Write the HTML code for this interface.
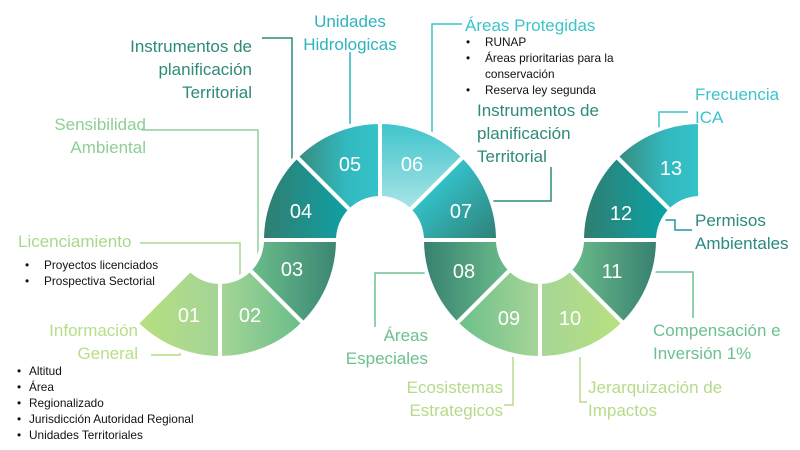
<!DOCTYPE html>
<html><head><meta charset="utf-8"><style>
html,body{margin:0;padding:0;background:#fff;}
svg{display:block;}
.l{font-family:"Liberation Sans",sans-serif;font-size:17px;}
.b{font-family:"Liberation Sans",sans-serif;font-size:11.8px;fill:#111;}
.n{font-family:"Liberation Sans",sans-serif;font-size:20px;fill:#fff;text-anchor:middle;dominant-baseline:central;}
</style></head><body>
<svg width="800" height="450" viewBox="0 0 800 450" xmlns="http://www.w3.org/2000/svg">
<defs>
<linearGradient id="g01" x1="0" y1="0" x2="1" y2="0"><stop offset="0" stop-color="#b7e07e"/><stop offset="1" stop-color="#a4d498"/></linearGradient>
<linearGradient id="g02" x1="0" y1="0" x2="1" y2="0"><stop offset="0" stop-color="#a6d596"/><stop offset="1" stop-color="#68bd8a"/></linearGradient>
<linearGradient id="g03" x1="0" y1="0" x2="1" y2="0"><stop offset="0" stop-color="#6cbe8b"/><stop offset="1" stop-color="#3a8574"/></linearGradient>
<linearGradient id="g04" x1="0" y1="0" x2="1" y2="0"><stop offset="0" stop-color="#327d70"/><stop offset="1" stop-color="#0ea2a6"/></linearGradient>
<linearGradient id="g05" x1="0" y1="0" x2="1" y2="0"><stop offset="0" stop-color="#378a7c"/><stop offset="0.6" stop-color="#33b9bf"/><stop offset="1" stop-color="#34c3ca"/></linearGradient>
<linearGradient id="g06" x1="0" y1="0" x2="0" y2="1"><stop offset="0" stop-color="#3ec3cb"/><stop offset="1" stop-color="#ace5e8"/></linearGradient>
<linearGradient id="g07" x1="0" y1="0" x2="1" y2="1"><stop offset="0.3" stop-color="#33c2ca"/><stop offset="1" stop-color="#2f7f74"/></linearGradient>
<linearGradient id="g08" x1="0" y1="0" x2="1" y2="0"><stop offset="0" stop-color="#367f70"/><stop offset="1" stop-color="#6cbd8b"/></linearGradient>
<linearGradient id="g09" x1="0" y1="0" x2="1" y2="0"><stop offset="0" stop-color="#6abf8a"/><stop offset="1" stop-color="#a8d597"/></linearGradient>
<linearGradient id="g10" x1="0" y1="0" x2="1" y2="0"><stop offset="0" stop-color="#a6d597"/><stop offset="1" stop-color="#b8e17e"/></linearGradient>
<linearGradient id="g11" x1="0" y1="0" x2="1" y2="0"><stop offset="0" stop-color="#6cbc8b"/><stop offset="1" stop-color="#377f70"/></linearGradient>
<linearGradient id="g12" x1="0" y1="0" x2="1" y2="0"><stop offset="0" stop-color="#327d70"/><stop offset="1" stop-color="#08a3a7"/></linearGradient>
<linearGradient id="g13" x1="0" y1="0" x2="1" y2="0"><stop offset="0" stop-color="#378a7c"/><stop offset="0.6" stop-color="#33b9bf"/><stop offset="1" stop-color="#34c3ca"/></linearGradient>
</defs>

<g fill="none" stroke-width="1.5">
<polyline points="262,38 292,38 292,162" stroke="#2e8a7a"/>
<polyline points="350,52 350,127" stroke="#2bb5c0"/>
<polyline points="142,130 258,130 258,262" stroke="#8ecf97"/>
<polyline points="140,243 240,243 240,278" stroke="#a8d98e"/>
<polyline points="151,355 180,355 180,347" stroke="#b3dc84"/>
<polyline points="462,24 432,24 432,135" stroke="#3cc3cb"/>
<polyline points="551,167 551,201 493,201" stroke="#2e8a7a"/>
<polyline points="688,112 659,112 659,134" stroke="#3cc3cb"/>
<polyline points="640,220 675,220 675,230 692,230" stroke="#1b9aa0"/>
<polyline points="430,273 375,273 375,327" stroke="#6cc08f"/>
<polyline points="513,355 513,405 504,405" stroke="#b5db8a"/>
<polyline points="580,357 580,402 587,402" stroke="#b5db8a"/>
<polyline points="648,272 693,272 693,318" stroke="#6cc08f"/>
</g>

<g stroke="#fff" stroke-width="4" stroke-linejoin="miter">
<path d="M220,358 A118,118 0 0,1 136.6,323.4 L190.3,269.7 A42,42 0 0,0 220,282 Z" fill="url(#g01)"/>
<path d="M303.4,323.4 A118,118 0 0,1 220,358 L220,282 A42,42 0 0,0 249.7,269.7 Z" fill="url(#g02)"/>
<path d="M338,240 A118,118 0 0,1 303.4,323.4 L249.7,269.7 A42,42 0 0,0 262,240 Z" fill="url(#g03)"/>
<path d="M262,240 A118,118 0 0,1 296.6,156.6 L350.3,210.3 A42,42 0 0,0 338,240 Z" fill="url(#g04)"/>
<path d="M296.6,156.6 A118,118 0 0,1 380,122 L380,198 A42,42 0 0,0 350.3,210.3 Z" fill="url(#g05)"/>
<path d="M380,122 A118,118 0 0,1 463.4,156.6 L409.7,210.3 A42,42 0 0,0 380,198 Z" fill="url(#g06)"/>
<path d="M463.4,156.6 A118,118 0 0,1 498,240 L422,240 A42,42 0 0,0 409.7,210.3 Z" fill="url(#g07)"/>
<path d="M456.6,323.4 A118,118 0 0,1 422,240 L498,240 A42,42 0 0,0 510.3,269.7 Z" fill="url(#g08)"/>
<path d="M540,358 A118,118 0 0,1 456.6,323.4 L510.3,269.7 A42,42 0 0,0 540,282 Z" fill="url(#g09)"/>
<path d="M623.4,323.4 A118,118 0 0,1 540,358 L540,282 A42,42 0 0,0 569.7,269.7 Z" fill="url(#g10)"/>
<path d="M658,240 A118,118 0 0,1 623.4,323.4 L569.7,269.7 A42,42 0 0,0 582,240 Z" fill="url(#g11)"/>
<path d="M582,240 A118,118 0 0,1 616.6,156.6 L670.3,210.3 A42,42 0 0,0 658,240 Z" fill="url(#g12)"/>
<path d="M616.6,156.6 A118,118 0 0,1 700,122 L700,198 A42,42 0 0,0 670.3,210.3 Z" fill="url(#g13)"/>
</g>

<text class="n" x="189" y="316">01</text>
<text class="n" x="250" y="316">02</text>
<text class="n" x="292" y="270">03</text>
<text class="n" x="301" y="212">04</text>
<text class="n" x="350" y="165">05</text>
<text class="n" x="412" y="165">06</text>
<text class="n" x="461" y="212">07</text>
<text class="n" x="464" y="272">08</text>
<text class="n" x="509" y="319">09</text>
<text class="n" x="570" y="319">10</text>
<text class="n" x="612" y="272">11</text>
<text class="n" x="621" y="214">12</text>
<text class="n" x="671" y="169">13</text>

<g class="l">
<text x="252" y="52" fill="#2e8a7a" text-anchor="end">Instrumentos de</text>
<text x="252" y="75" fill="#2e8a7a" text-anchor="end">planificación</text>
<text x="252" y="98" fill="#2e8a7a" text-anchor="end">Territorial</text>
<text x="350" y="27" fill="#2cb5c0" text-anchor="middle">Unidades</text>
<text x="350" y="50" fill="#2cb5c0" text-anchor="middle">Hidrologicas</text>
<text x="146" y="130" fill="#8ecf93" text-anchor="end">Sensibilidad</text>
<text x="146" y="153" fill="#8ecf93" text-anchor="end">Ambiental</text>
<text x="18" y="247" fill="#a8d98b">Licenciamiento</text>
<text x="138" y="336" fill="#b6df86" text-anchor="end">Información</text>
<text x="138" y="359" fill="#b6df86" text-anchor="end">General</text>
<text x="465" y="31" fill="#3cc3cb">Áreas Protegidas</text>
<text x="477" y="116" fill="#2e8a7a">Instrumentos de</text>
<text x="477" y="139" fill="#2e8a7a">planificación</text>
<text x="477" y="162" fill="#2e8a7a">Territorial</text>
<text x="695" y="100" fill="#3cc3cb">Frecuencia</text>
<text x="695" y="123" fill="#3cc3cb">ICA</text>
<text x="695" y="226" fill="#2a8a80">Permisos</text>
<text x="695" y="249" fill="#2a8a80">Ambientales</text>
<text x="428" y="341" fill="#6cc08f" text-anchor="end">Áreas</text>
<text x="428" y="364" fill="#6cc08f" text-anchor="end">Especiales</text>
<text x="503" y="393" fill="#b5db8a" text-anchor="end">Ecosistemas</text>
<text x="503" y="416" fill="#b5db8a" text-anchor="end">Estrategicos</text>
<text x="588" y="393" fill="#b5db8a">Jerarquización de</text>
<text x="588" y="416" fill="#b5db8a">Impactos</text>
<text x="653" y="336" fill="#6cc08f">Compensación e</text>
<text x="653" y="359" fill="#6cc08f">Inversión 1%</text>
</g>

<g class="b">
<text x="25" y="269">•</text><text x="44" y="269">Proyectos licenciados</text>
<text x="25" y="285">•</text><text x="44" y="285">Prospectiva Sectorial</text>
<text x="17" y="375">•</text><text x="29" y="375">Altitud</text>
<text x="17" y="391">•</text><text x="29" y="391">Área</text>
<text x="17" y="407">•</text><text x="29" y="407">Regionalizado</text>
<text x="17" y="423">•</text><text x="29" y="423">Jurisdicción Autoridad Regional</text>
<text x="17" y="439">•</text><text x="29" y="439">Unidades Territoriales</text>
<text x="466" y="46">•</text><text x="485" y="46">RUNAP</text>
<text x="466" y="62">•</text><text x="485" y="62">Áreas prioritarias para la</text>
<text x="485" y="78">conservación</text>
<text x="466" y="94">•</text><text x="485" y="94">Reserva ley segunda</text>
</g>
</svg>
</body></html>
